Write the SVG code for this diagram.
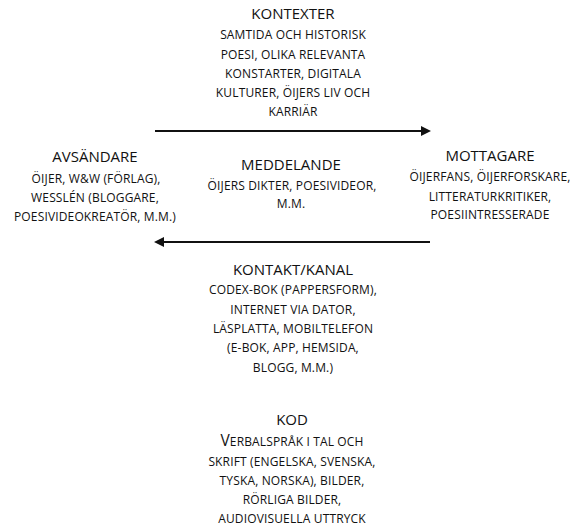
<svg xmlns="http://www.w3.org/2000/svg" width="577" height="527" viewBox="0 0 577 527">
<style>
text{font-family:"Open Sans","Liberation Sans",sans-serif;fill:#111;text-anchor:middle}
.t{font-size:15px}
.b{font-size:12px;letter-spacing:0.15px}
.cap{font-size:15.5px}
.ln{stroke:#111;stroke-width:2;fill:none}
</style>
<defs>
<marker id="ah" viewBox="0 0 10 10" refX="8" refY="5" markerWidth="10" markerHeight="11" orient="auto-start-reverse" markerUnits="userSpaceOnUse">
<path d="M0,0 L10,5 L0,10 z" fill="#111"/>
</marker>
</defs>
<g id="connectors">
<line class="ln" x1="155" y1="131" x2="429" y2="131" marker-end="url(#ah)"/>
<line class="ln" x1="430" y1="242" x2="156" y2="242" marker-end="url(#ah)"/>
</g>
<g id="kontexter">
<text class="t" x="293" y="19">KONTEXTER</text>
<text class="b" x="293" y="39">SAMTIDA OCH HISTORISK</text>
<text class="b" x="293" y="58.5">POESI, OLIKA RELEVANTA</text>
<text class="b" x="293" y="78">KONSTARTER, DIGITALA</text>
<text class="b" x="293" y="97">KULTURER, ÖIJERS LIV OCH</text>
<text class="b" x="293" y="116">KARRIÄR</text>
</g>
<g id="avsandare">
<text class="t" x="95" y="162">AVSÄNDARE</text>
<text class="b" x="96" y="182.5">ÖIJER, W&amp;W (FÖRLAG),</text>
<text class="b" x="95" y="201.5">WESSLÉN (BLOGGARE,</text>
<text class="b" x="95" y="221">POESIVIDEOKREATÖR, M.M.)</text>
</g>
<g id="meddelande">
<text class="t" x="291" y="170">MEDDELANDE</text>
<text class="b" x="292" y="190">ÖIJERS DIKTER, POESIVIDEOR,</text>
<text class="b" x="291" y="208">M.M.</text>
</g>
<g id="mottagare">
<text class="t" x="490" y="161">MOTTAGARE</text>
<text class="b" x="490" y="181">ÖIJERFANS, ÖIJERFORSKARE,</text>
<text class="b" x="490" y="201">LITTERATURKRITIKER,</text>
<text class="b" x="490" y="219">POESIINTRESSERADE</text>
</g>
<g id="kontakt">
<text class="t" x="293" y="275">KONTAKT/KANAL</text>
<text class="b" x="293" y="294">CODEX-BOK (PAPPERSFORM),</text>
<text class="b" x="293" y="314">INTERNET VIA DATOR,</text>
<text class="b" x="293" y="333">LÄSPLATTA, MOBILTELEFON</text>
<text class="b" x="293" y="352">(E-BOK, APP, HEMSIDA,</text>
<text class="b" x="293" y="372">BLOGG, M.M.)</text>
</g>
<g id="kod">
<text class="t" x="292" y="425">KOD</text>
<text class="b" x="292" y="446"><tspan class="cap">V</tspan>ERBALSPRÅK I TAL OCH</text>
<text class="b" x="292" y="466">SKRIFT (ENGELSKA, SVENSKA,</text>
<text class="b" x="292" y="485">TYSKA, NORSKA), BILDER,</text>
<text class="b" x="292" y="504">RÖRLIGA BILDER,</text>
<text class="b" x="292" y="523">AUDIOVISUELLA UTTRYCK</text>
</g>
</svg>
